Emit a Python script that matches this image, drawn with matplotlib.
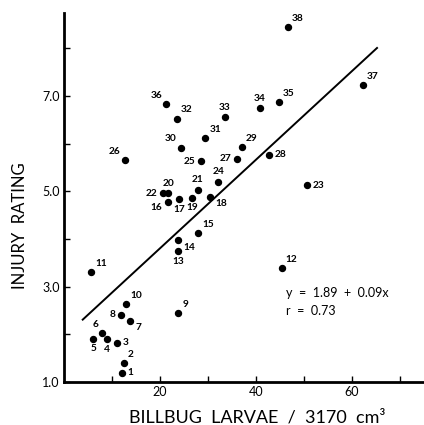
import matplotlib
matplotlib.use('Agg')
import matplotlib.pyplot as plt

plt.rcParams['font.family'] = ['Lato', 'DejaVu Sans']

# Point number, larvae per 3170 cm3, injury rating
point_ids = list(range(1, 39))
larvae = [12.1, 12.5, 11.0, 9.0, 6.1, 8.0, 13.8, 11.8, 23.8, 13.0,
          5.6, 45.4, 23.8, 23.7, 27.9, 21.6, 24.0, 30.4, 26.7, 21.7,
          27.9, 20.6, 50.7, 32.2, 28.6, 12.7, 36.1, 42.8, 37.1, 24.4,
          29.5, 23.5, 33.5, 40.8, 44.8, 21.3, 62.3, 46.7]
injury = [1.20, 1.39, 1.82, 1.90, 1.91, 2.02, 2.29, 2.41, 2.45, 2.64,
          3.31, 3.40, 3.75, 3.98, 4.12, 4.78, 4.84, 4.89, 4.87, 4.96,
          5.03, 4.96, 5.13, 5.20, 5.63, 5.65, 5.69, 5.77, 5.93, 5.92,
          6.12, 6.53, 6.56, 6.74, 6.87, 6.83, 7.23, 8.44]

# regression line as drawn
line_x = [3.9, 65.3]
line_y = [2.31, 8.01]

equation = 'y  =  1.89  +  0.09x'
r_text = 'r  =  0.73'

# where each number sits relative to its dot
offsets = {'ur': (3, 3, 'left', 'bottom'), 'r': (4, 0, 'left', 'center'),
           'l': (-4, 0, 'right', 'center'), 'b': (0, -4, 'center', 'top'),
           'a': (0, 4, 'center', 'bottom'), 'ul': (-3, 3, 'right', 'bottom'),
           'br': (4, -2, 'left', 'top'), 'bl': (-4, -1, 'right', 'top')}
label_dir = {1: 'r', 2: 'ur', 3: 'r', 4: 'b', 5: 'b', 6: 'ul', 7: 'br', 8: 'l',
             9: 'ur', 10: 'ur', 11: 'ur', 12: 'ur', 13: 'b', 14: 'br', 15: 'ur',
             16: 'bl', 17: 'b', 18: 'br', 19: 'b', 20: 'a', 21: 'a', 22: 'l',
             23: 'r', 24: 'a', 25: 'l', 26: 'ul', 27: 'l', 28: 'r', 29: 'ur',
             30: 'ul', 31: 'ur', 32: 'ur', 33: 'a', 34: 'a', 35: 'ur', 36: 'ul',
             37: 'ur', 38: 'ur'}

fig = plt.figure(figsize=(4.24, 4.25), dpi=100)
ax = fig.add_axes([0.151, 0.101, 0.849, 0.868])

ax.plot(larvae, injury, 'o', color='black', ms=4.3)
ax.plot(line_x, line_y, color='black', lw=1.4)

for pid, x, y in zip(point_ids, larvae, injury):
    dx, dy, ha, va = offsets[label_dir[pid]]
    ax.annotate(str(pid), (x, y), xytext=(dx, dy), textcoords='offset points',
                ha=ha, va=va, fontsize=7.3, fontweight='bold')

ax.text(46.4, 2.87, equation, fontsize=9, va='center')
ax.text(46.4, 2.49, r_text, fontsize=9, va='center')

ax.set_xlim(0, 75.1)
ax.set_ylim(1.0, 8.74)
ax.set_xticks([10, 20, 30, 40, 50, 60, 70])
ax.set_xticklabels(['', '20', '', '40', '', '60', ''])
ax.set_yticks([1, 2, 3, 4, 5, 6, 7, 8])
ax.set_yticklabels(['1.0', '', '3.0', '', '5.0', '', '7.0', ''])
ax.tick_params(direction='in', length=4, width=1, labelsize=9, pad=3)

for side in ['top', 'right']:
    ax.spines[side].set_visible(False)
for side in ['left', 'bottom']:
    ax.spines[side].set_linewidth(2)

ax.set_xlabel('BILLBUG  LARVAE  /  3170  cm³', fontsize=13)
ax.set_ylabel('INJURY  RATING', fontsize=12)
ax.xaxis.set_label_coords(0.536, -0.074)
ax.yaxis.set_label_coords(-0.100, 0.425)

plt.savefig('out.png', dpi=100)
